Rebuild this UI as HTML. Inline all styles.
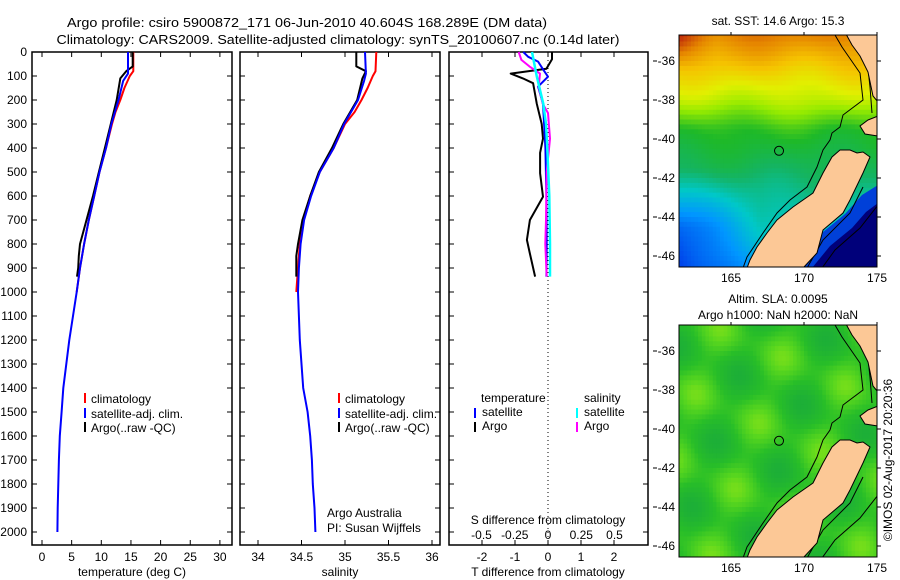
<!DOCTYPE html>
<html><head><meta charset="utf-8"><style>
html,body{margin:0;padding:0;background:#fff}
svg{display:block;font-family:"Liberation Sans",sans-serif;font-size:12px}
</style></head><body>
<svg id="fig" width="900" height="580" viewBox="0 0 900 580" xmlns="http://www.w3.org/2000/svg">
<text x="307" y="27" text-anchor="middle" font-size="13" textLength="480" lengthAdjust="spacingAndGlyphs">Argo profile: csiro 5900872_171 06-Jun-2010 40.604S 168.289E (DM data)</text>
<text x="338" y="44" text-anchor="middle" font-size="13" textLength="563" lengthAdjust="spacingAndGlyphs">Climatology: CARS2009. Satellite-adjusted climatology: synTS_20100607.nc (0.14d later)</text>
<g id="panels"></g>
<g id="maps"></g>
<text transform="translate(892,460) rotate(-90)" text-anchor="middle" font-size="12">©IMOS 02-Aug-2017 20:20:36</text>
</svg>
<script>
// ---------- data ----------
const depthTicks=[0,100,200,300,400,500,600,700,800,900,1000,1100,1200,1300,1400,1500,1600,1700,1800,1900,2000];
const tempTicks=[0,5,10,15,20,25,30];
const salTicks=[34,34.5,35,35.5,36];
const salTickLabels=["34","34.5","35","35.5","36"];
const tdiffTicks=[-2,-1,0,1,2];
const sdiffTicks=[-0.5,-0.25,0,0.25,0.5];
const sdiffTickLabels=["-0.5","-0.25","0","0.25","0.5"];

const climDepth=[0,80,100,150,200,250,300,400,500,600,700,800,900,1000];
const climTemp=[15.4,15.4,14.8,13.9,13.2,12.4,11.8,10.8,9.7,8.8,7.9,7.1,6.4,5.85];
const climSal=[35.36,35.35,35.32,35.26,35.19,35.11,35.0,34.87,34.71,34.6,34.52,34.48,34.46,34.44];

const satDepth=[0,90,120,200,300,400,500,600,700,800,900,1000,1200,1400,1500,1600,1700,1800,1900,2000];
const satTemp=[14.5,14.5,13.7,12.9,11.7,10.8,9.7,8.8,7.9,7.1,6.4,5.85,4.6,3.6,3.3,3.0,2.85,2.75,2.65,2.6];
const satSal=[35.23,35.24,35.22,35.15,34.99,34.87,34.71,34.61,34.53,34.49,34.47,34.46,34.48,34.52,34.57,34.6,34.62,34.63,34.65,34.66];

const argoDepth=[0,60,80,110,200,300,400,500,600,700,800,850,900,936];
const argoTemp=[15.3,15.3,14.2,13.2,12.6,11.6,10.6,9.6,8.6,7.5,6.4,6.2,6.1,5.9];
const argoSal=[35.13,35.13,35.24,35.2,35.14,34.98,34.85,34.7,34.6,34.51,34.46,34.44,34.44,34.44];

const diffDepth=[0,30,70,90,110,130,216,300,361,420,505,603,700,783,840,936];
const argoTdiff=[0.12,0.12,-0.05,-1.13,-0.76,-0.45,-0.34,-0.19,-0.15,-0.24,-0.24,-0.15,-0.55,-0.64,-0.55,-0.39];
const satTdiffDepth=[0,20,40,72,103,144,216,400,600,800,936];
const satTdiff=[-0.75,-0.6,-0.3,-0.15,0.0,-0.3,-0.15,-0.08,-0.05,-0.04,-0.05];
const argoSdiffDepth=[0,33,60,90,144,216,254,361,500,700,800,936];
const argoSdiff=[-0.22,-0.2,-0.14,-0.06,-0.07,-0.04,0.0,0.015,-0.01,-0.015,-0.02,-0.01];
const satSdiffDepth=[0,100,216,300,400,600,800,936];
const satSdiff=[-0.12,-0.085,-0.035,-0.015,-0.005,0.01,0.015,0.015];

// ---------- helpers ----------
const NS="http://www.w3.org/2000/svg";
function mk(tag,attrs,parent,txt){const e=document.createElementNS(NS,tag);for(const k in attrs)e.setAttribute(k,attrs[k]);if(txt!==undefined)e.textContent=txt;parent.appendChild(e);return e;}
const yD=d=>52+d*0.24;
const xT=t=>42+t*5.93;
const xS=s=>258+(s-34)*87;
const xTd=t=>548+t*33;
const xSd=s=>548+s*133;
const P=document.getElementById('panels');
const TOP=52,BOT=545;

function frame(x0,x1,name){
  const r=mk('rect',{x:x0,y:TOP,width:x1-x0,height:BOT-TOP,fill:'none',stroke:'#000','stroke-width':1.5},P);
  
  
  depthTicks.forEach(d=>{mk('line',{x1:x0,x2:x0+5,y1:yD(d),y2:yD(d),stroke:'#000'},P);mk('line',{x1:x1-5,x2:x1,y1:yD(d),y2:yD(d),stroke:'#000'},P);});
}
function xticks(vals,fx,labels,name){
  vals.forEach((v,i)=>{const x=fx(v);
    mk('line',{x1:x,x2:x,y1:TOP,y2:TOP+5,stroke:'#000'},P);
    mk('line',{x1:x,x2:x,y1:BOT-5,y2:BOT,stroke:'#000'},P);
    const t=mk('text',{x:x,y:561,'text-anchor':'middle'},P,labels?labels[i]:String(v));
    
    
  });
}
function line(xs,ds,fx,color,name,w){
  const pts=xs.map((v,i)=>fx(v).toFixed(1)+','+yD(ds[i]).toFixed(1)).join(' ');
  const l=mk('polyline',{points:pts,fill:'none',stroke:color,'stroke-width':w||2,'stroke-linejoin':'round'},P);
  
  
}
function label(x,y,txt,name,anchor){
  const t=mk('text',{x:x,y:y,'text-anchor':anchor||'start'},P,txt);
  
  
}
function legendMark(x,y,color){mk('line',{x1:x,x2:x,y1:y-10,y2:y,stroke:color,'stroke-width':2},P);}

depthTicks.forEach(d=>{const t=mk('text',{x:27,y:yD(d)+4,'text-anchor':'end'},P,String(d));
  
  });

// panel 1 temperature
frame(32,232,'temperature-panel');
xticks(tempTicks,xT,null,'temperature');
line(climTemp,climDepth,xT,'#f00','temp-climatology-line');
line(argoTemp,argoDepth,xT,'#000','temp-argo-line');
line(satTemp,satDepth,xT,'#00f','temp-satellite-line');
label(132,576,'temperature (deg C)','temperature-axis-title','middle');
legendMark(85,403,'#f00');label(91,403,'climatology','legend-climatology');
legendMark(85,418,'#00f');label(91,418,'satellite-adj. clim.','legend-satellite');
legendMark(85,432,'#000');label(91,432,'Argo(..raw -QC)','legend-argo');

// panel 2 salinity
frame(240,440,'salinity-panel');
xticks(salTicks,xS,salTickLabels,'salinity');
line(climSal,climDepth,xS,'#f00','sal-climatology-line');
line(argoSal,argoDepth,xS,'#000','sal-argo-line');
line(satSal,satDepth,xS,'#00f','sal-satellite-line');
label(340,576,'salinity','salinity-axis-title','middle');
legendMark(339,403,'#f00');label(345,403,'climatology','legend-climatology-2');
legendMark(339,418,'#00f');label(345,418,'satellite-adj. clim.','legend-satellite-2');
legendMark(339,432,'#000');label(345,432,'Argo(..raw -QC)','legend-argo-2');
label(327,517,'Argo Australia','credit-argo-australia');
label(327,532,'PI: Susan Wijffels','credit-pi');

// panel 3 differences
frame(449,648,'difference-panel');
mk('line',{x1:548,x2:548,y1:TOP,y2:BOT,stroke:'#000','stroke-dasharray':'1,3'},P);
xticks(tdiffTicks,xTd,null,'tdiff');
sdiffTicks.forEach((v,i)=>{const t=mk('text',{x:xSd(v),y:539,'text-anchor':'middle'},P,sdiffTickLabels[i]);
  
  });
label(548,524,'S difference from climatology','sdiff-axis-title','middle');
label(548,576,'T difference from climatology','tdiff-axis-title','middle');
line(argoTdiff,diffDepth,xTd,'#000','tdiff-argo-line');
line(satTdiff,satTdiffDepth,xTd,'#00f','tdiff-satellite-line');
line(argoSdiff,argoSdiffDepth,xSd,'#f0f','sdiff-argo-line');
line(satSdiff,satSdiffDepth,xSd,'#0ff','sdiff-satellite-line',2.5);
label(481,402,'temperature','legend-temperature-head');
label(584,402,'salinity','legend-salinity-head');
legendMark(475,418,'#00f');label(482,416,'satellite','legend-t-satellite');
legendMark(475,432,'#000');label(482,430,'Argo','legend-t-argo');
legendMark(577,418,'#0ff');label(584,416,'satellite','legend-s-satellite');
legendMark(577,432,'#f0f');label(584,430,'Argo','legend-s-argo');

// ---------- maps (shapes in top-map pixel coords; bottom map offset +290) ----------
const M=document.getElementById('maps');
const SI=[[840,150],[832,157],[823,173],[813,193],[793,207],[777,220],[767,233],[757,247],[750,260],[747,268],[803,268],[817,253],[823,230],[843,213],[850,200],[863,173],[870,157],[863,152],[857,153],[850,150]];
const NI1=[[846,34],[878,34],[878,102],[873,96],[868,72],[860,56],[852,45]];
const NI2=[[878,116],[868,120],[860,126],[865,134],[878,136]];
const CA=[[835,35],[842,47],[860,73],[863,100],[843,115],[840,127],[832,133],[830,140],[823,150],[817,167],[807,187],[790,200],[777,213],[763,233],[747,257],[743,268]];
const CB=[[850,35],[867,60],[870,87],[872,113]];
const CC=[[863,187],[850,213],[823,240],[807,268]];
const CD=[[878,205],[860,228],[835,250],[822,268]];
const BLUE=[[878,185],[878,268],[800,268],[818,250],[823,232],[845,214],[862,195]];
const NAVY=[[878,203],[878,268],[812,268],[830,246],[852,228],[866,212]];
const X=lon=>731+(lon-165)*14.6, Y36=61, Yl=lat=>Y36+(-36-lat)*19.5;
const jet=[[9,[0,0,128]],[10.5,[0,50,230]],[12,[0,150,255]],[13,[0,200,200]],[13.8,[20,180,100]],[14.5,[30,185,40]],[15.3,[150,235,0]],[15.9,[225,240,0]],[16.5,[245,195,0]],[17.2,[230,135,0]],[18,[190,40,10]]];
function cmap(v,st){if(v<=st[0][0])return st[0][1];for(let i=1;i<st.length;i++){if(v<=st[i][0]){const a=st[i-1],b=st[i],f=(v-a[0])/(b[0]-a[0]);return a[1].map((c,j)=>Math.round(c+(b[1][j]-c)*f));}}return st[st.length-1][1];}
function noise(x,y){return Math.sin(x*1.1+y*0.7)*0.5+Math.sin(x*0.6-y*1.3)*0.4;}
function sst(lon,lat){let v;
  if(lat>-38)v=15.6+(lat+38)*0.5;
  else if(lat>-39.5)v=14.6+(lat+39.5)*0.67;
  else v=14.6+(lat+39.5)*0.33;
  v+=noise(lon,lat)*0.2;
  const f=Math.min(1,Math.max(0,(-41.5-lat)/3));
  if(lon<167)v-=(167-lon)*0.3*f;
  if(lat>-36.5&&lon<164)v+=(164-lon)*0.3*Math.min(1,(lat+36.5)/1.5);return v;}
function sla(lon,lat){return 0.45+0.35*Math.sin(lon*0.9+lat*0.5)*Math.sin(lat*1.1-lon*0.35);}
const slaStops=[[0,[25,170,60]],[0.4,[40,190,40]],[0.7,[90,215,30]],[1.0,[170,235,20]]];
function drawMap(top,fn,stops,name,title1,title2,navy){
  const bot=top+232,off=top-35;
  const g=mk('g',{},M);
  
  
  const clipId=name+'-clip';
  const cp=mk('clipPath',{id:clipId},g);
  mk('rect',{x:679,y:top,width:198,height:232},cp);
  const f=mk('g',{'clip-path':'url(#'+clipId+')'},g);
  const step=0.25;
  for(let lon=161.25;lon<175;lon+=step){for(let lat=-34.5;lat>-46.8;lat-=step){
    const c=cmap(fn(lon+step/2,lat-step/2),stops);
    mk('rect',{x:X(lon).toFixed(1),y:(Yl(lat)+off).toFixed(1),width:(step*14.6+0.6).toFixed(1),height:(step*19.5+0.6).toFixed(1),fill:'rgb('+c.join(',')+')'},f);}}
  const pts=a=>a.map(p=>p[0]+','+(p[1]+off)).join(' ');
  if(navy){mk('polygon',{points:pts(BLUE),fill:'#0040d8'},f);mk('polygon',{points:pts(NAVY),fill:'#00007a'},f);}
  [CA,CB,CC,CD].forEach(c=>mk('polyline',{points:pts(c),fill:'none',stroke:'#000','stroke-width':1},f));
  [SI,NI1,NI2].forEach((poly,i)=>{const s=mk('polygon',{points:pts(poly),fill:'#fcc896',stroke:'#000','stroke-width':1},f);
    
    });
  const c=mk('circle',{cx:X(168.289),cy:Yl(-40.604)+off,r:4.5,fill:'none',stroke:'#000','stroke-width':1},g);
  
  
  mk('rect',{x:679,y:top,width:198,height:232,fill:'none',stroke:'#000','stroke-width':1},g);
  [165,170,175].forEach(l=>{const x=X(l);mk('line',{x1:x,x2:x,y1:top-3,y2:top,stroke:'#000'},g);
    const t=mk('text',{x:x,y:bot+15,'text-anchor':'middle'},g,String(l));
    
    });
  [-36,-38,-40,-42,-44,-46].forEach(l=>{const y=Yl(l)+off;
    mk('line',{x1:653,x2:657,y1:y,y2:y,stroke:'#000'},g);
    mk('line',{x1:877,x2:881,y1:y,y2:y,stroke:'#000'},g);
    const t=mk('text',{x:675,y:y+4,'text-anchor':'end'},g,String(l));
    
    });
  const tt=mk('text',{x:778,y:title2?top-22:top-10,'text-anchor':'middle'},g,title1);
  
  
  if(title2){const t2=mk('text',{x:778,y:top-6,'text-anchor':'middle'},g,title2);
    
    }
}
drawMap(35,sst,jet,'sst-map','sat. SST: 14.6 Argo: 15.3',null,true);
drawMap(325,sla,slaStops,'sla-map','Altim. SLA: 0.0095','Argo h1000: NaN h2000: NaN',false);
</script>
</body></html>
